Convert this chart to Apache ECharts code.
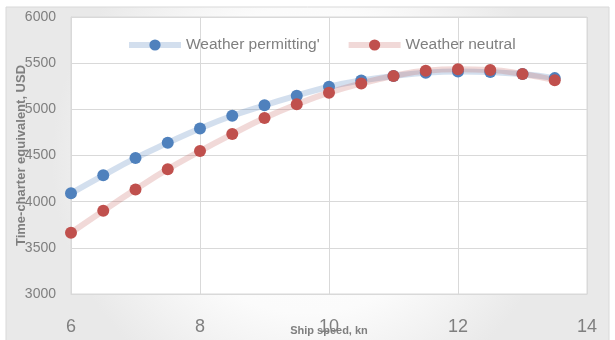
<!DOCTYPE html>
<html><head><meta charset="utf-8">
<script src="https://cdn.jsdelivr.net/npm/echarts@6/dist/echarts.min.js"></script>
<style>html,body{margin:0;padding:0;background:#fff}#c{width:615px;height:340px}</style>
</head><body><div id="c"></div>
<script>
const speeds = [6, 6.5, 7, 7.5, 8, 8.5, 9, 9.5, 10, 10.5, 11, 11.5, 12, 12.5, 13, 13.5];
const weatherPermitting = [4090, 4285, 4472, 4637, 4793, 4930, 5044, 5148, 5245, 5312, 5361, 5397, 5410, 5403, 5382, 5338];
const weatherNeutral = [3663, 3902, 4133, 4352, 4548, 4732, 4906, 5054, 5180, 5280, 5361, 5418, 5433, 5426, 5382, 5316];
const seriesNames = ["Weather permitting'", "Weather neutral"];
const xTicks = { min: 6, max: 14, interval: 2 };
const yTicks = { min: 3000, max: 6000, interval: 500 };

const pair = (xs, ys) => xs.map((x, i) => [x, ys[i]]);
const chart = echarts.init(document.getElementById('c'), null, { renderer: 'canvas' });
const gray = '#7f7f7f';
const font = 'Liberation Sans';
chart.setOption({
  animation: false,
  graphic: [{
    type: 'rect', z: -10, silent: true,
    shape: { x: 6, y: 7, width: 603, height: 340 },
    style: {
      fill: new echarts.graphic.RadialGradient(0.5, 0.45, 0.75, [
        { offset: 0, color: '#ffffff' }, { offset: 0.6, color: '#fbfbfb' }, { offset: 1, color: '#e9e9e9' }
      ]),
      stroke: '#d9d9d9', lineWidth: 1
    }
  }],
  grid: { left: 71, right: 28, top: 17, bottom: 46, containLabel: false, outerBoundsMode: 'none', show: true, backgroundColor: '#ffffff', borderColor: '#d9d9d9', borderWidth: 1 },
  legend: {
    left: 121, top: 32, itemWidth: 52, itemHeight: 14, itemGap: 26,
    lineStyle: { width: 6 },
    textStyle: { color: gray, fontSize: 15.5, fontFamily: font },
    data: seriesNames
  },
  xAxis: {
    type: 'value', min: xTicks.min, max: xTicks.max, interval: xTicks.interval,
    name: 'Ship speed, kn', nameLocation: 'middle', nameGap: 31, nameMoveOverlap: false,
    nameTextStyle: { color: gray, fontSize: 11, fontWeight: 'bold', fontFamily: font },
    axisLine: { show: true, lineStyle: { color: '#d9d9d9' } },
    axisTick: { show: false },
    splitLine: { show: true, lineStyle: { color: '#d9d9d9', width: 1 } },
    axisLabel: { color: gray, fontSize: 18, margin: 24, fontFamily: font }
  },
  yAxis: {
    type: 'value', min: yTicks.min, max: yTicks.max, interval: yTicks.interval,
    name: 'Time-charter equivalent, USD', nameLocation: 'middle', nameGap: 43, nameMoveOverlap: false,
    nameTextStyle: { color: gray, fontSize: 13, fontWeight: 'bold', fontFamily: font },
    axisLine: { show: true, lineStyle: { color: '#d9d9d9' } },
    axisTick: { show: false },
    splitLine: { show: true, lineStyle: { color: '#d9d9d9', width: 1 } },
    axisLabel: { color: gray, fontSize: 14, margin: 15, fontFamily: font, formatter: v => String(v) }
  },
  series: [
    {
      name: seriesNames[0], type: 'line', smooth: true, data: pair(speeds, weatherPermitting),
      symbol: 'circle', symbolSize: 12,
      itemStyle: { color: '#4f81bd' },
      lineStyle: { color: 'rgba(79,129,189,0.25)', width: 6 }
    },
    {
      name: seriesNames[1], type: 'line', smooth: true, data: pair(speeds, weatherNeutral),
      symbol: 'circle', symbolSize: 12,
      itemStyle: { color: '#c0504d' },
      lineStyle: { color: 'rgba(192,80,77,0.22)', width: 6 }
    }
  ]
});
</script></body></html>
